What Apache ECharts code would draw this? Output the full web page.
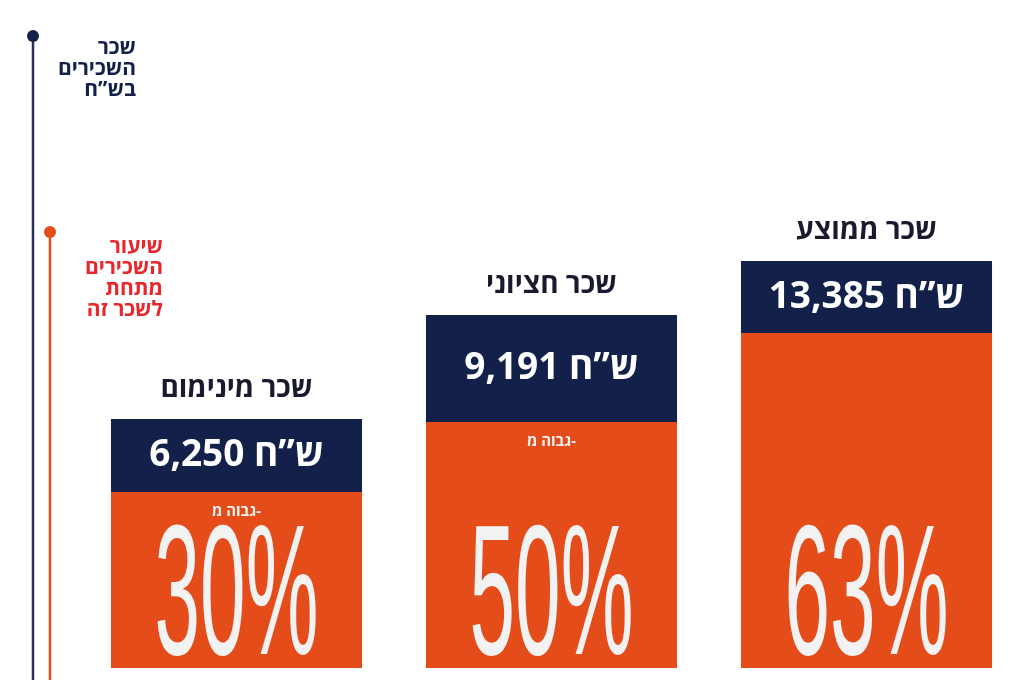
<!DOCTYPE html>
<html><head><meta charset="utf-8">
<script src="https://cdn.jsdelivr.net/npm/echarts@6/dist/echarts.min.js"></script>
<style>html,body{margin:0;padding:0;background:#fff}#c{width:1024px;height:692px}</style>
</head><body><div id="c"></div>
<script>
const categories = ['שכר מינימום', 'שכר חציוני', 'שכר ממוצע'];
const salaryLabels = ['6,250 ש”ח', '9,191 ש”ח', '13,385 ש”ח'];
const percentLabels = ['30%', '50%', '63%'];
const showHigher = [true, true, false];
const orangeValues = [176, 246, 335];
const navyValues = [73, 107, 72];
const ORANGE = '#e44c1a', NAVY = '#13204a', RED = '#e8262b';
const FONT = '"Open Sans","Noto Sans","DejaVu Sans",sans-serif';

const chart = echarts.init(document.getElementById('c'));
chart.setOption({
  animation: false,
  grid: { left: 79, right: 0, top: 68, bottom: 24 },
  xAxis: { type: 'category', data: categories, show: false },
  yAxis: { type: 'value', min: 0, max: 600, show: false },
  series: [
    { type: 'bar', stack: 's', data: orangeValues, itemStyle: { color: ORANGE }, barCategoryGap: '20.3%' },
    { type: 'bar', stack: 's', data: navyValues, itemStyle: { color: NAVY },
      label: { show: true, position: 'inside', formatter: p => salaryLabels[p.dataIndex],
        color: '#fff', fontSize: 37, fontWeight: 'bold', fontFamily: FONT } }
  ]
});

const g = [];
const lineTop1 = chart.convertToPixel({ yAxisIndex: 0 }, 632);
const lineTop2 = chart.convertToPixel({ yAxisIndex: 0 }, 436);
const lineBot = chart.convertToPixel({ yAxisIndex: 0 }, -12);
g.push({ type: 'line', z: 100, shape: { x1: 33, y1: lineTop1, x2: 33, y2: lineBot }, style: { stroke: '#2b2d5c', lineWidth: 2.5 } });
g.push({ type: 'circle', z: 100, shape: { cx: 33, cy: lineTop1, r: 6 }, style: { fill: NAVY } });
g.push({ type: 'line', z: 100, shape: { x1: 50, y1: lineTop2, x2: 50, y2: lineBot }, style: { stroke: ORANGE, lineWidth: 2.5 } });
g.push({ type: 'circle', z: 100, shape: { cx: 50, cy: lineTop2, r: 6 }, style: { fill: ORANGE } });
g.push({ type: 'text', z: 100, x: 136, y: lineTop1 + 2, style: { text: 'שכר\nהשכירים\nבש”ח', fill: NAVY, font: 'bold 21px ' + FONT, align: 'right', lineHeight: 21 } });
g.push({ type: 'text', z: 100, x: 163, y: lineTop2 + 5, style: { text: 'שיעור\nהשכירים\nמתחת\nלשכר זה', fill: RED, font: 'bold 21px ' + FONT, align: 'right', lineHeight: 21 } });

categories.forEach((c, i) => {
  const top = chart.convertToPixel({ xAxisIndex: 0, yAxisIndex: 0 }, [i, orangeValues[i] + navyValues[i]]);
  const mid = chart.convertToPixel({ xAxisIndex: 0, yAxisIndex: 0 }, [i, orangeValues[i]]);
  const bot = chart.convertToPixel({ xAxisIndex: 0, yAxisIndex: 0 }, [i, 0]);
  g.push({ type: 'text', z: 100, x: top[0], y: top[1] - 16, style: { text: c, fill: '#1a1a2e', font: 'bold 28px ' + FONT, align: 'center', verticalAlign: 'bottom' } });
  if (showHigher[i]) g.push({ type: 'text', z: 100, x: mid[0], y: mid[1] + 20, style: { text: 'גבוה מ-', fill: '#f2f2f2', font: 'bold 15px ' + FONT, align: 'center', verticalAlign: 'middle' } });
  g.push({ type: 'text', z: 100, x: mid[0], y: bot[1] + 28, scaleX: 0.44, originX: 0, originY: 0,
    style: { text: percentLabels[i], fill: '#f2f2f2', font: '186px "Liberation Sans", sans-serif', align: 'center', verticalAlign: 'bottom' } });
});
chart.setOption({ graphic: g });
</script></body></html>
